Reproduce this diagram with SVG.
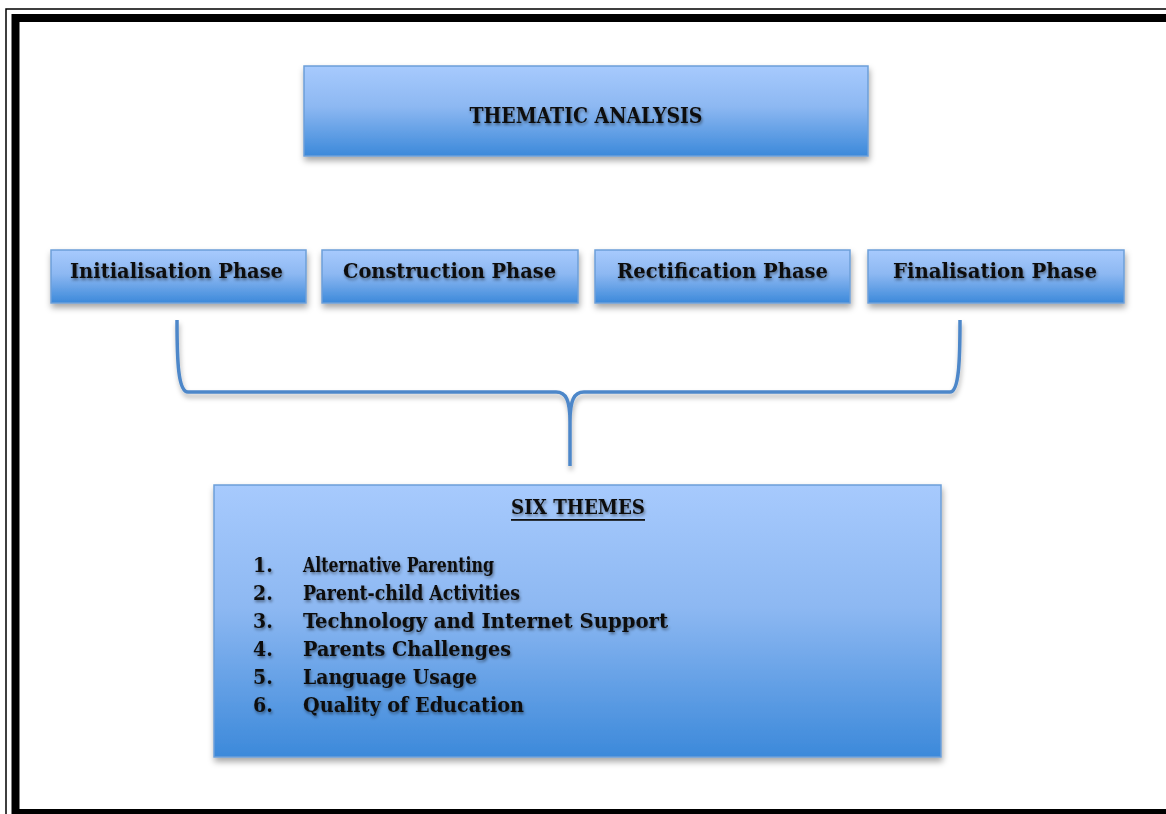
<svg xmlns="http://www.w3.org/2000/svg" width="1166" height="814" viewBox="0 0 1166 814">
  <defs>
    <linearGradient id="boxFill" x1="0" y1="0" x2="0" y2="1">
      <stop offset="0" stop-color="#a7cafd"/>
      <stop offset="0.45" stop-color="#8db8f2"/>
      <stop offset="1" stop-color="#3c89da"/>
    </linearGradient>
    <filter id="boxShadow" x="-10%" y="-20%" width="120%" height="150%">
      <feDropShadow dx="1" dy="4" stdDeviation="3" flood-color="#000" flood-opacity="0.35"/>
    </filter>
    <filter id="textShadow" x="-10%" y="-50%" width="120%" height="200%">
      <feDropShadow dx="1" dy="2" stdDeviation="1.6" flood-color="#000" flood-opacity="0.45"/>
    </filter>
    <filter id="lineShadow" x="-10%" y="-20%" width="120%" height="150%">
      <feDropShadow dx="1" dy="4" stdDeviation="2.5" flood-color="#000" flood-opacity="0.3"/>
    </filter>
  </defs>
  <style>
    .box { fill: url(#boxFill); stroke: #6c9fd9; stroke-width: 1.5; filter: url(#boxShadow); }
    .label { font-family: "DejaVu Serif Condensed", "DejaVu Serif", "Liberation Serif", serif; font-stretch: condensed; font-weight: bold; fill: #111; filter: url(#textShadow); }
    .brace { fill: none; stroke: #4d87c9; stroke-width: 3.5; stroke-linejoin: round; filter: url(#lineShadow); }
  </style>

  <rect width="1166" height="814" fill="#ffffff"/>

  <!-- page frame: thin outer rule and thick inner rule -->
  <g id="frame">
    <rect x="6" y="9" width="1170" height="820" fill="none" stroke="#000" stroke-width="1.5"/>
    <rect x="15.5" y="18" width="1170" height="795" fill="none" stroke="#000" stroke-width="8"/>
  </g>

  <g id="thematic-analysis">
    <rect class="box" x="304" y="66" width="564" height="90"/>
    <text class="label" x="586" y="123" font-size="22" text-anchor="middle" textLength="233" lengthAdjust="spacingAndGlyphs">THEMATIC ANALYSIS</text>
  </g>

  <g id="initialisation-phase">
    <rect class="box" x="51" y="250" width="255" height="53"/>
    <text class="label" x="176.5" y="278" font-size="21" text-anchor="middle" textLength="213" lengthAdjust="spacingAndGlyphs">Initialisation Phase</text>
  </g>
  <g id="construction-phase">
    <rect class="box" x="322" y="250" width="256" height="53"/>
    <text class="label" x="449.5" y="278" font-size="21" text-anchor="middle" textLength="213" lengthAdjust="spacingAndGlyphs">Construction Phase</text>
  </g>
  <g id="rectification-phase">
    <rect class="box" x="595" y="250" width="255" height="53"/>
    <text class="label" x="722.5" y="278" font-size="21" text-anchor="middle" textLength="211" lengthAdjust="spacingAndGlyphs">Rectification Phase</text>
  </g>
  <g id="finalisation-phase">
    <rect class="box" x="868" y="250" width="256" height="53"/>
    <text class="label" x="995" y="278" font-size="21" text-anchor="middle" textLength="204" lengthAdjust="spacingAndGlyphs">Finalisation Phase</text>
  </g>

  <g id="connectors">
    <path class="brace" d="M177,320 C177,360 178,392 188,392 L556,392 C566,392 570,400 570,422 L570,466 M570,422 C570,400 574,392 584,392 L950,392 C959,392 960,360 960,320"/>
  </g>

  <g id="six-themes">
    <rect class="box" x="214" y="485" width="727" height="272"/>
    <text class="label" x="578" y="514" font-size="21" text-anchor="middle" textLength="134" lengthAdjust="spacingAndGlyphs">SIX THEMES</text>
    <rect x="511" y="519" width="134" height="1.8" fill="#111"/>
    <g class="label" font-size="21">
      <text x="253" y="572">1.</text>
      <text x="303" y="572" textLength="191" lengthAdjust="spacingAndGlyphs">Alternative Parenting</text>
      <text x="253" y="600">2.</text>
      <text x="303" y="600" textLength="217" lengthAdjust="spacingAndGlyphs">Parent-child Activities</text>
      <text x="253" y="628">3.</text>
      <text x="303" y="628" textLength="365" lengthAdjust="spacingAndGlyphs">Technology and Internet Support</text>
      <text x="253" y="656">4.</text>
      <text x="303" y="656" textLength="208" lengthAdjust="spacingAndGlyphs">Parents Challenges</text>
      <text x="253" y="684">5.</text>
      <text x="303" y="684" textLength="174" lengthAdjust="spacingAndGlyphs">Language Usage</text>
      <text x="253" y="712">6.</text>
      <text x="303" y="712" textLength="221" lengthAdjust="spacingAndGlyphs">Quality of Education</text>
    </g>
  </g>
</svg>
